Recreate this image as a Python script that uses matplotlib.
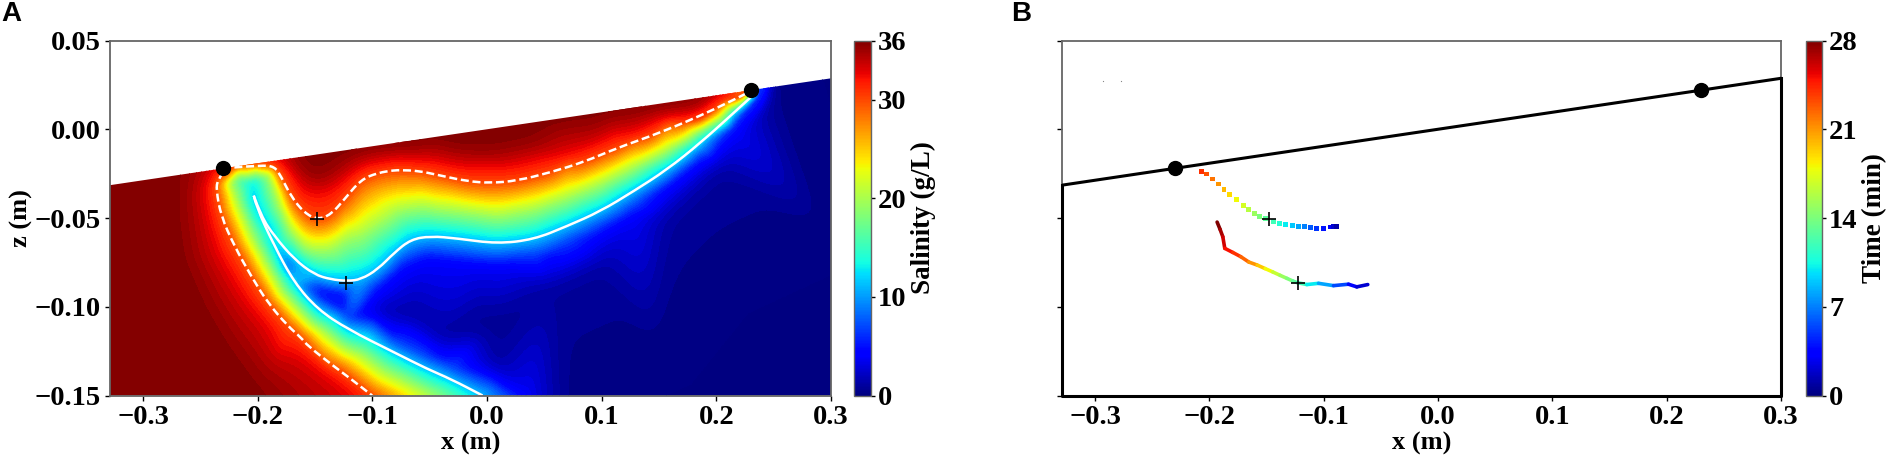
import numpy as np
import pandas as pd
import matplotlib
matplotlib.use('Agg')
import matplotlib.pyplot as plt
import matplotlib.tri as mtri
from matplotlib.collections import LineCollection
from matplotlib.colors import Normalize
from matplotlib.patches import Polygon, PathPatch
from matplotlib.path import Path
from matplotlib.cm import ScalarMappable

W, H = 1890, 463

# beach line and the two tide marks
beach_x = [-0.33, -0.23, 0.23, 0.30]
beach_z = [-0.0316, -0.022, 0.022, 0.0287]
marks_x = [-0.23, 0.23]
marks_z = [-0.022, 0.022]
plus_x = [-0.148, -0.1228]
plus_z = [-0.0505, -0.0864]

# isohalines, (x, z) pairs
s30_lower_x = [-0.2300, -0.2350, -0.2364, -0.2321, -0.2205, -0.2059, -0.1914, -0.1740, -0.1624, -0.1566, -0.1305, -0.1188, -0.1003]
s30_lower_z = [-0.0240, -0.0284, -0.0340, -0.0490, -0.0658, -0.0827, -0.0977, -0.1108, -0.1173, -0.1220, -0.1351, -0.1407, -0.1500]
s30_upper_x = [-0.2205, -0.1972, -0.1856, -0.1798, -0.1711, -0.1595, -0.1479, -0.1363, -0.1247, -0.1101, -0.0956, -0.0811,
               -0.0754, -0.0609, -0.0406, -0.0173, 0.0030, 0.0262, 0.0552, 0.0843, 0.1133, 0.1423, 0.1713, 0.2004, 0.2265]
s30_upper_z = [-0.0215, -0.0203, -0.0209, -0.0265, -0.0378, -0.0471, -0.0509, -0.0481, -0.0396, -0.0284, -0.0246, -0.0231,
               -0.0231, -0.0233, -0.0261, -0.0293, -0.0303, -0.0290, -0.0243, -0.0185, -0.0106, -0.0040, 0.0035, 0.0119, 0.0203]
s11_upper_x = [-0.2036, -0.1972, -0.1856, -0.1682, -0.1508, -0.1363, -0.1218, -0.1101, -0.0956, -0.0811, -0.0667,
               -0.0493, -0.0261, 0.0088, 0.0407, 0.0697, 0.0988, 0.1278, 0.1568, 0.1859, 0.2149, 0.2323]
s11_upper_z = [-0.0374, -0.0490, -0.0602, -0.0733, -0.0818, -0.0846, -0.0855, -0.0846, -0.0790, -0.0696, -0.0621,
               -0.0602, -0.0615, -0.0645, -0.0621, -0.0546, -0.0462, -0.0349, -0.0228, -0.0078, 0.0091, 0.0194]
s11_lower_x = [-0.2036, -0.2016, -0.1856, -0.1682, -0.1479, -0.1218, -0.0811, -0.0521, -0.0318, -0.0040]
s11_lower_z = [-0.0374, -0.0434, -0.0658, -0.0864, -0.1014, -0.1126, -0.1257, -0.1351, -0.1407, -0.1500]
s20_x = [-0.0500, -0.0783, -0.1101, -0.1421, -0.1682, -0.1885, -0.2059, -0.2190, -0.2248, -0.2176, -0.2001, -0.1900, -0.1856,
         -0.1798, -0.1711, -0.1595, -0.1479, -0.1363, -0.1218, -0.1101, -0.0811, -0.0754, -0.0261, 0.0088, 0.0407, 0.0697,
         0.0988, 0.1278, 0.1568, 0.1859, 0.2149]
s20_z = [-0.1500, -0.1407, -0.1276, -0.1145, -0.0995, -0.0808, -0.0602, -0.0396, -0.0303, -0.0231, -0.0222, -0.0246, -0.0321,
         -0.0434, -0.0565, -0.0658, -0.0677, -0.0668, -0.0602, -0.0584, -0.0462, -0.0443, -0.0452, -0.0481, -0.0443, -0.0378,
         -0.0303, -0.0209, -0.0115, -0.0003, 0.0128]
s33_x = [-0.1180, -0.1363, -0.1624, -0.1914, -0.2147, -0.2350, -0.2437, -0.2466, -0.2422]
s33_z = [-0.1500, -0.1407, -0.1276, -0.1126, -0.0939, -0.0714, -0.0490, -0.0359, -0.0243]
s33_top_x = [-0.1856, -0.1740, -0.1682, -0.1595, -0.1479, -0.1363, -0.1247, -0.1101, -0.0956, -0.0811,
             -0.0754, -0.0464, 0.0030, 0.0697, 0.1278, 0.1859, 0.2236]
s33_top_z = [-0.0177, -0.0209, -0.0258, -0.0340, -0.0340, -0.0321, -0.0265, -0.0190, -0.0172, -0.0153,
             -0.0143, -0.0162, -0.0190, -0.0125, -0.0012, 0.0072, 0.0194]
s355_x = [-0.1682, -0.1566, -0.1479, -0.1363, -0.1247, -0.1101, -0.0811, -0.0754, -0.0319, 0.0030, 0.0407, 0.0988, 0.1568, 0.2149]
s355_z = [-0.0187, -0.0247, -0.0275, -0.0237, -0.0172, -0.0125, -0.0106, -0.0106, -0.0106, -0.0121, -0.0068, 0.0025, 0.0124, 0.0199]
s35_left_x = [-0.2582, -0.2596, -0.2553, -0.2350, -0.2176, -0.1914, -0.1750]
s35_left_z = [-0.0250, -0.0434, -0.0714, -0.0995, -0.1183, -0.1407, -0.1500]
s36_left_x = [-0.272, -0.274, -0.268, -0.250, -0.232, -0.205]
s36_left_z = [-0.0275, -0.0500, -0.0750, -0.1050, -0.1250, -0.1500]
s7_upper_x = [-0.1710, -0.1508, -0.1218, -0.0956, -0.0811, -0.0754, -0.0493, -0.0261, 0.0088, 0.0407, 0.0697, 0.0988, 0.1278, 0.1568, 0.1859, 0.2149]
s7_upper_z = [-0.0790, -0.0875, -0.0905, -0.0860, -0.0780, -0.0733, -0.0677, -0.0696, -0.0718, -0.0696, -0.0621, -0.0531, -0.0419, -0.0293, -0.0134, 0.0044]
s7_lower_x = [-0.1566, -0.1479, -0.1218, -0.0811, -0.0521, -0.0318, 0.0040, 0.0160]
s7_lower_z = [-0.0900, -0.0965, -0.1070, -0.1200, -0.1290, -0.1345, -0.1440, -0.1500]
s4_upper_x = [-0.1450, -0.1247, -0.0956, -0.0753, -0.0521, -0.0173, 0.0117, 0.0552, 0.0988, 0.1278, 0.1568, 0.1859, 0.2149, 0.2367]
s4_upper_z = [-0.0920, -0.0945, -0.0920, -0.0800, -0.0740, -0.0761, -0.0771, -0.0733, -0.0602, -0.0490, -0.0340, -0.0190, -0.0003, 0.0194]
s4_lower_x = [-0.1247, -0.0811, -0.0376, 0.0350]
s4_lower_z = [-0.1000, -0.1145, -0.1276, -0.1500]
s1_x = [0.0600, 0.0060, -0.0376, -0.0956, -0.0667, -0.0028, 0.0552, 0.0988, 0.1568, 0.2004, 0.2410]
s1_z = [-0.1500, -0.1332, -0.1182, -0.1014, -0.1033, -0.0995, -0.0902, -0.0771, -0.0509, -0.0228, 0.0175]

# single readings: beach, corners and the pale spot at the tongue tip
extra_x = [-0.33, -0.33, -0.30, -0.28, -0.25, -0.21, -0.19, -0.175, -0.16, -0.10, -0.04, 0.05, 0.10, 0.15, 0.20, 0.225,
           -0.2074, -0.215, -0.20, -0.30, 0.30, 0.30, 0.24, 0.26, 0.30, 0.20, 0.15, 0.08, 0.0]
extra_z = [-0.15, -0.0311, -0.0282, -0.0263, -0.0234, -0.0196, -0.0177, -0.0163, -0.0148, -0.0091, -0.0033, 0.0053, 0.0101, 0.0149, 0.0196, 0.0220,
           -0.0303, -0.0290, -0.0290, -0.09, -0.15, 0.0292, 0.0235, 0.0254, -0.06, -0.09, -0.13, -0.15, -0.11]
extra_s = [36, 36, 36, 36, 35, 31, 32, 34, 36, 36, 36, 36, 36, 36, 36, 33,
           13, 15, 14, 36, 0, 0, 0.5, 0, 0, 0, 0, 0, 0.6]

# drifting salt plume tracks in panel B
track1_x = [-0.2067, -0.2029, -0.1971, -0.1921, -0.1872, -0.1822, -0.1764, -0.1705, -0.1659, -0.1609, -0.1560, -0.1510,
            -0.1440, -0.1385, -0.1332, -0.1277, -0.1224, -0.1172, -0.1116, -0.1061, -0.1005, -0.0944, -0.0915, -0.0892]
track1_z = [-0.0239, -0.0252, -0.0280, -0.0308, -0.0338, -0.0368, -0.0398, -0.0428, -0.0452, -0.0475, -0.0490, -0.0501,
            -0.0519, -0.0529, -0.0536, -0.0542, -0.0546, -0.0549, -0.0553, -0.0557, -0.0557, -0.0551, -0.0548, -0.0546]
track1_t = [24, 23, 22, 21, 20, 19, 18, 17, 16, 15, 14, 13, 12, 11, 10, 9, 8, 7, 6, 5, 4, 3, 2, 1]
track2_x = [-0.1933, -0.1907, -0.1883, -0.1866, -0.1796, -0.1726, -0.1656, -0.1583, -0.1513, -0.1446, -0.1382, -0.1323, -0.1271,
            -0.1233, -0.1148, -0.1046, -0.0915, -0.0784, -0.0711, -0.0615]
track2_z = [-0.0523, -0.0564, -0.0606, -0.0671, -0.0694, -0.0718, -0.0748, -0.0765, -0.0785, -0.0804, -0.0823, -0.0840, -0.0855,
            -0.0864, -0.0875, -0.0868, -0.0881, -0.0873, -0.0888, -0.0875]
track2_t = [28, 27, 26, 25, 24, 22.5, 21, 19.5, 18, 16.5, 15, 14, 13, 12, 10, 8, 5.5, 3.5, 2, 0]
specks_x = [-0.293, -0.277]
specks_z = [0.0272, 0.0272]

x_ticks = [-0.3, -0.2, -0.1, 0.0, 0.1, 0.2, 0.3]
z_ticks = [-0.15, -0.10, -0.05, 0.00, 0.05]
sal_ticks = [0, 10, 20, 30, 36]
time_ticks = [0, 7, 14, 21, 28]

plt.rcParams['font.family'] = ['Liberation Serif', 'DejaVu Serif']
plt.rcParams['font.weight'] = 'bold'
plt.rcParams['axes.labelweight'] = 'bold'
plt.rcParams['axes.edgecolor'] = '#666666'


def add_axes_px(fig, left, right, top, bottom):
    return fig.add_axes([left / W, 1 - bottom / H, (right - left) / W, (bottom - top) / H])


def style_axes(ax):
    ax.set_xlim(-0.329, 0.3)
    ax.set_ylim(-0.15, 0.05)
    ax.set_xticks(x_ticks)
    ax.set_yticks(z_ticks)
    ax.tick_params(labelsize=20.5, length=3.5, width=1, pad=3)
    ax.set_xlabel('x (m)', fontsize=19, labelpad=2)
    for s in ax.spines.values():
        s.set_linewidth(1.3)


def style_cbar(cb, label):
    cb.ax.tick_params(labelsize=20.5, length=3, width=1, pad=2)
    cb.set_label(label, fontsize=19.5, labelpad=3)
    cb.outline.set_edgecolor('#666666')
    cb.outline.set_linewidth(1)


def soften(grid, cells):
    # gaussian blur so the readings between isohalines do not show kinks
    offs = np.arange(-3 * cells, 3 * cells + 1)
    kernel = np.exp(-0.5 * (offs / cells) ** 2)
    kernel /= kernel.sum()
    pad = len(offs) // 2
    for axis in (0, 1):
        padded = np.pad(grid, [(pad, pad) if a == axis else (0, 0) for a in (0, 1)], mode='edge')
        grid = np.apply_along_axis(lambda v: np.convolve(v, kernel, mode='valid'), axis, padded)
    return grid


def rounded_line(ax, cx, cz, **kw):
    # quadratic curve through the midpoints, the readings act as control points
    pts = np.column_stack([cx, cz])
    mids = (pts[:-1] + pts[1:]) / 2
    verts = [pts[0]]
    codes = [Path.MOVETO]
    for ctrl, end in zip(pts[1:-1], mids[1:]):
        verts += [ctrl, end]
        codes += [Path.CURVE3, Path.CURVE3]
    verts.append(pts[-1])
    codes.append(Path.LINETO)
    ax.add_patch(PathPatch(Path(verts, codes), fill=False, edgecolor='white', **kw))


curves = [
    (s30_lower_x[1:], s30_lower_z[1:], 30), (s30_upper_x, s30_upper_z, 30),
    (s11_upper_x, s11_upper_z, 11), (s11_lower_x[1:], s11_lower_z[1:], 11),
    (s20_x, s20_z, 20), (s33_x, s33_z, 33), (s33_top_x, s33_top_z, 33),
    (s355_x, s355_z, 35.5), (s35_left_x, s35_left_z, 35), (s36_left_x, s36_left_z, 36),
    (s7_upper_x, s7_upper_z, 7), (s7_lower_x, s7_lower_z, 7),
    (s4_upper_x, s4_upper_z, 4), (s4_lower_x, s4_lower_z, 4), (s1_x, s1_z, 1),
]
xs = list(extra_x)
zs = list(extra_z)
vals = list(extra_s)
for cx, cz, level in curves:
    xs += list(cx)
    zs += list(cz)
    vals += [level] * len(cx)

tri = mtri.Triangulation(xs, zs)
interp = mtri.LinearTriInterpolator(tri, np.array(vals, dtype=float))
grid_x, grid_z = np.meshgrid(np.linspace(-0.33, 0.30, 631), np.linspace(-0.15, 0.04, 381))
grid_s = np.ma.filled(interp(grid_x, grid_z).astype(float), np.nan)
# cells above the beach fall outside the triangles; copy the last value upward
grid_s = pd.DataFrame(grid_s).ffill(axis=0).bfill(axis=0).ffill(axis=1).bfill(axis=1).to_numpy()
light = soften(grid_s, 4)
heavy = soften(grid_s, 9)
# far from the mixing band the readings are sparse, blur those more
weight = np.clip((np.abs(light - 18) - 12) / 4, 0, 1)
grid_s = weight * heavy + (1 - weight) * light

fig = plt.figure(figsize=(W / 100, H / 100), dpi=100)

# panel A
ax = add_axes_px(fig, 110, 831, 40.5, 395.5)
cf = ax.contourf(grid_x, grid_z, grid_s, levels=np.linspace(0, 36, 73), cmap='jet', vmin=0, vmax=36, extend='both')
clip = Polygon(list(zip(beach_x, beach_z)) + [(0.30, -0.15), (-0.33, -0.15)], closed=True, transform=ax.transData)
cf.set_clip_path(clip)
rounded_line(ax, s30_lower_x, s30_lower_z, lw=1.8, linestyle=(0, (3.2, 1.5)))
rounded_line(ax, s30_upper_x, s30_upper_z, lw=1.8, linestyle=(0, (3.2, 1.5)))
rounded_line(ax, s11_upper_x, s11_upper_z, lw=1.8)
rounded_line(ax, s11_lower_x, s11_lower_z, lw=1.8)
ax.plot(marks_x, marks_z, 'o', color='black', ms=10)
ax.plot(plus_x, plus_z, '+', color='black', ms=10, mew=1.2)
style_axes(ax)
ax.set_ylabel('z (m)', fontsize=19, labelpad=1)
cax = add_axes_px(fig, 854, 871, 40.5, 395.5)
cb = fig.colorbar(ScalarMappable(norm=Normalize(0, 36), cmap='jet'), cax=cax, ticks=sal_ticks)
style_cbar(cb, 'Salinity (g/L)')

# panel B
ax2 = add_axes_px(fig, 1062, 1781, 40.5, 395.5)
ax2.plot([-0.329, -0.329, 0.30, 0.30], [beach_z[0], -0.15, -0.15, beach_z[3]], color='black', lw=2.2, clip_on=False, zorder=3)
ax2.plot(beach_x, beach_z, color='black', lw=2.2, zorder=3)
ax2.plot(marks_x, marks_z, 'o', color='black', ms=10, zorder=4)
norm = Normalize(0, 28)
ax2.scatter(track1_x, track1_z, c=track1_t, cmap='jet', norm=norm, marker='s', s=12, lw=0)
pts = np.column_stack([track2_x, track2_z])
segs = np.stack([pts[:-1], pts[1:]], axis=1)
lc = LineCollection(segs, cmap='jet', norm=norm, linewidths=2.6, capstyle='round')
lc.set_array(np.array(track2_t[:-1]))
ax2.add_collection(lc)
ax2.plot(plus_x, plus_z, '+', color='black', ms=10, mew=1.2, zorder=5)
ax2.plot(specks_x, specks_z, 's', color='#888888', ms=0.8, mew=0)
style_axes(ax2)
ax2.set_yticklabels([])
cax2 = add_axes_px(fig, 1806, 1822, 40.5, 395.5)
cb2 = fig.colorbar(ScalarMappable(norm=norm, cmap='jet'), cax=cax2, ticks=time_ticks)
style_cbar(cb2, 'Time (min)')

fig.text(1 / W, 1 - 21 / H, 'A', family='Liberation Sans', fontsize=20, fontweight='bold')
fig.text(1011 / W, 1 - 21 / H, 'B', family='Liberation Sans', fontsize=20, fontweight='bold')

fig.savefig('out.png', dpi=100)
